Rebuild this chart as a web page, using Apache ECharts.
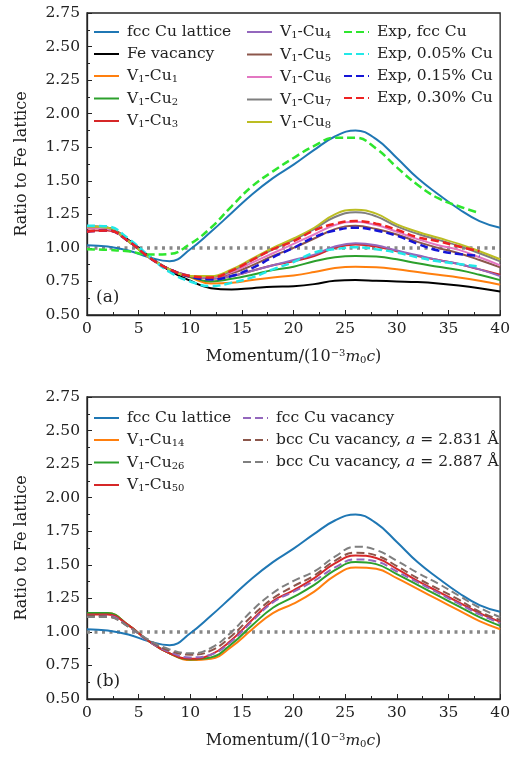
<!DOCTYPE html>
<html lang="en" style="height: 100%">
<head>
  <meta charset="utf-8">
</head>
<body style="height: 100%; margin: 0; background-color:#ffffff;">
  <div id="container" style="width: 513px; height: 758px"></div>

<script src="https://fastly.jsdelivr.net/npm/echarts@6/dist/echarts.min.js"></script>

<script>
  var dom = document.getElementById('container');
  var myChart = echarts.init(dom);

  // momentum grid (10^-3 m0c)
  var xs = [0, 2, 4, 6, 8, 10, 12, 14, 16, 18, 20, 22, 24, 26, 28, 30, 32, 34, 36, 38, 40];

  // shared curve
  var fccLattice = [1.02, 1.01, 0.98, 0.93, 0.90, 0.99, 1.12, 1.26, 1.40, 1.52, 1.62, 1.73, 1.83, 1.875, 1.81, 1.67, 1.52, 1.40, 1.29, 1.20, 1.15];

  // panel (a)
  var feVacancy = [1.16, 1.15, 1.06, 0.94, 0.83, 0.755, 0.70, 0.69, 0.70, 0.71, 0.715, 0.73, 0.755, 0.76, 0.755, 0.75, 0.745, 0.735, 0.72, 0.70, 0.675];
  var cu1 = [1.15, 1.14, 1.05, 0.93, 0.84, 0.78, 0.735, 0.74, 0.76, 0.78, 0.795, 0.82, 0.85, 0.86, 0.855, 0.84, 0.82, 0.80, 0.78, 0.755, 0.725];
  var cu2 = [1.15, 1.14, 1.05, 0.93, 0.84, 0.785, 0.75, 0.77, 0.80, 0.835, 0.86, 0.90, 0.93, 0.94, 0.935, 0.915, 0.885, 0.86, 0.835, 0.80, 0.76];
  var cu3 = [1.13, 1.13, 1.05, 0.93, 0.84, 0.79, 0.77, 0.79, 0.83, 0.87, 0.90, 0.94, 1.00, 1.025, 1.01, 0.975, 0.94, 0.91, 0.88, 0.84, 0.80];
  var cu4 = [1.15, 1.14, 1.05, 0.93, 0.84, 0.79, 0.77, 0.79, 0.83, 0.87, 0.91, 0.95, 1.01, 1.035, 1.02, 0.98, 0.945, 0.91, 0.88, 0.84, 0.79];
  var cu5 = [1.15, 1.14, 1.05, 0.93, 0.84, 0.79, 0.78, 0.81, 0.87, 0.94, 1.00, 1.07, 1.14, 1.165, 1.14, 1.10, 1.045, 1.00, 0.96, 0.91, 0.855];
  var cu6 = [1.15, 1.14, 1.05, 0.93, 0.84, 0.79, 0.78, 0.82, 0.89, 0.96, 1.03, 1.10, 1.17, 1.195, 1.17, 1.12, 1.065, 1.02, 0.985, 0.93, 0.87];
  var cu7 = [1.16, 1.15, 1.05, 0.93, 0.84, 0.79, 0.785, 0.83, 0.91, 0.99, 1.06, 1.14, 1.23, 1.265, 1.235, 1.16, 1.105, 1.06, 1.015, 0.96, 0.90];
  var cu8 = [1.16, 1.15, 1.05, 0.93, 0.84, 0.79, 0.79, 0.84, 0.92, 1.00, 1.07, 1.15, 1.25, 1.285, 1.255, 1.175, 1.12, 1.075, 1.03, 0.975, 0.915];
  var expFcc = [0.99, 0.985, 0.975, 0.95, 0.955, 1.03, 1.15, 1.31, 1.46, 1.57, 1.67, 1.76, 1.82, 1.82, 1.74, 1.60, 1.47, 1.37, 1.31, 1.26, null];
  var exp005 = [1.165, 1.16, 1.07, 0.94, 0.82, 0.75, 0.715, 0.74, 0.78, 0.84, 0.895, 0.965, 0.99, 1.005, 0.99, 0.965, 0.93, 0.90, 0.88, 0.86, null];
  var exp015 = [1.12, 1.13, 1.05, 0.93, 0.84, 0.785, 0.765, 0.79, 0.85, 0.93, 1.00, 1.08, 1.13, 1.15, 1.13, 1.09, 1.03, 0.98, 0.955, 0.94, null];
  var exp030 = [1.12, 1.13, 1.05, 0.93, 0.84, 0.79, 0.78, 0.83, 0.91, 0.99, 1.05, 1.13, 1.18, 1.20, 1.18, 1.135, 1.08, 1.05, 1.01, 0.975, null];

  // panel (b)
  var cu14 = [1.14, 1.14, 1.05, 0.93, 0.84, 0.79, 0.80, 0.89, 1.02, 1.14, 1.21, 1.30, 1.42, 1.48, 1.47, 1.40, 1.32, 1.24, 1.16, 1.08, 1.02];
  var cu26 = [1.14, 1.14, 1.05, 0.93, 0.84, 0.795, 0.81, 0.91, 1.05, 1.18, 1.26, 1.35, 1.46, 1.52, 1.505, 1.43, 1.35, 1.27, 1.19, 1.11, 1.045];
  var cu50 = [1.13, 1.13, 1.05, 0.93, 0.84, 0.80, 0.83, 0.94, 1.09, 1.23, 1.31, 1.40, 1.51, 1.57, 1.55, 1.47, 1.38, 1.30, 1.22, 1.14, 1.075];
  var fccVac = [1.12, 1.12, 1.04, 0.93, 0.85, 0.81, 0.83, 0.93, 1.08, 1.22, 1.30, 1.38, 1.48, 1.54, 1.525, 1.45, 1.37, 1.29, 1.21, 1.13, 1.065];
  var bcc2831 = [1.12, 1.115, 1.04, 0.935, 0.86, 0.83, 0.86, 0.97, 1.12, 1.25, 1.34, 1.42, 1.53, 1.59, 1.57, 1.49, 1.40, 1.32, 1.24, 1.15, 1.09];
  var bcc2887 = [1.11, 1.11, 1.04, 0.94, 0.87, 0.84, 0.88, 1.00, 1.16, 1.29, 1.38, 1.45, 1.56, 1.635, 1.61, 1.53, 1.44, 1.36, 1.27, 1.18, 1.11];

  var yTicks = [0.5, 2.75, 0.25];
  var refLevel = 1.0;

  var font = 'DejaVu Serif';
  var rich = {
    sub: { fontFamily: font, fontSize: 10, padding: [7, 0, 0, 0], color: '#222' },
    sup: { fontFamily: font, fontSize: 10, padding: [0, 0, 8, 0], color: '#222' },
    it: { fontFamily: font, fontSize: 15.5, fontStyle: 'italic', color: '#222' }
  };

  function pts(arr) {
    var out = [];
    arr.forEach(function (v, i) { if (v !== null) out.push([xs[i], v]); });
    return out;
  }

  function line(name, arr, color, idx, dashed, width) {
    return {
      name: name,
      type: 'line',
      xAxisIndex: idx,
      yAxisIndex: idx,
      data: pts(arr),
      smooth: 0.45,
      symbol: 'none',
      silent: true,
      lineStyle: { color: color, width: width || 2, type: dashed ? [8, 4] : 'solid' },
      itemStyle: { color: color },
      z: dashed ? 4 : 3
    };
  }

  function refLine(idx) {
    return {
      type: 'line',
      xAxisIndex: idx,
      yAxisIndex: idx,
      data: [[0, refLevel], [40, refLevel]],
      symbol: 'none',
      silent: true,
      lineStyle: { color: '#888', width: 3.5, type: [3, 4.5] },
      z: 2
    };
  }

  function label(name) {
    var m = name.match(/^V1-Cu(\d+)$/);
    if (m) return 'V{sub|1}-Cu{sub|' + m[1] + '}';
    var a = name.match(/^bcc Cu vacancy, a = (.*)$/);
    if (a) return 'bcc Cu vacancy, {it|a} = ' + a[1];
    return name;
  }

  function legend(names, left, top) {
    return {
      data: names,
      orient: 'vertical',
      left: left,
      top: top,
      itemWidth: 25,
      itemHeight: 14,
      itemGap: 6,
      padding: 0,
      selectedMode: false,
      formatter: label,
      itemStyle: { opacity: 0 },
      textStyle: { fontFamily: font, fontSize: 15.5, color: '#222', lineHeight: 14, padding: [0, 0, 0, 3], rich: rich }
    };
  }

  function xAxis(idx) {
    return {
      type: 'value',
      gridIndex: idx,
      min: 0,
      max: 40,
      interval: 5,
      name: 'Momentum/(10{sup|\u22123}{it|m}{sub|0}{it|c})',
      nameLocation: 'middle',
      nameGap: 33,
      nameTextStyle: { fontFamily: font, fontSize: 16, color: '#222', rich: rich },
      axisLine: { onZero: false, lineStyle: { color: '#222', width: 1.3 } },
      axisTick: { inside: true, length: 5, lineStyle: { color: '#222' } },
      minorTick: { show: true, splitNumber: 2, length: 3, lineStyle: { color: '#222' } },
      axisLabel: { fontFamily: font, fontSize: 15.5, color: '#222', margin: 6 },
      splitLine: { show: false }
    };
  }

  function yAxis(idx) {
    return {
      type: 'value',
      gridIndex: idx,
      min: yTicks[0],
      max: yTicks[1],
      interval: yTicks[2],
      name: 'Ratio to Fe lattice',
      nameLocation: 'middle',
      nameGap: 57,
      nameTextStyle: { fontFamily: font, fontSize: 16, color: '#222' },
      axisLine: { lineStyle: { color: '#222', width: 1.3 } },
      axisTick: { inside: true, length: 5, lineStyle: { color: '#222' } },
      minorTick: { show: true, splitNumber: 2, length: 3, lineStyle: { color: '#222' } },
      axisLabel: { fontFamily: font, fontSize: 15.5, color: '#222', margin: 7, formatter: function (v) { return v.toFixed(2); } },
      splitLine: { show: false }
    };
  }

  var grid = { show: true, borderColor: '#222', borderWidth: 1.3, backgroundColor: 'transparent' };

  var option = {
    animation: false,
    grid: [
      Object.assign({ left: 87, top: 13, width: 416, height: 302 }, grid),
      Object.assign({ left: 87, top: 397, width: 416, height: 302 }, grid)
    ],
    xAxis: [xAxis(0), xAxis(1)],
    yAxis: [yAxis(0), yAxis(1)],
    legend: [
      legend(['fcc Cu lattice', 'Fe vacancy', 'V1-Cu1', 'V1-Cu2', 'V1-Cu3'], 93, 24),
      legend(['V1-Cu4', 'V1-Cu5', 'V1-Cu6', 'V1-Cu7', 'V1-Cu8'], 246, 24),
      legend(['Exp, fcc Cu', 'Exp, 0.05% Cu', 'Exp, 0.15% Cu', 'Exp, 0.30% Cu'], 343, 24),
      legend(['fcc Cu lattice ', 'V1-Cu14', 'V1-Cu26', 'V1-Cu50'], 93, 410),
      legend(['fcc Cu vacancy', 'bcc Cu vacancy, a = 2.831 \u00c5', 'bcc Cu vacancy, a = 2.887 \u00c5'], 242, 410)
    ],
    graphic: [
      { type: 'text', left: 96, top: 289, style: { text: '(a)', font: '17px "DejaVu Serif"', fill: '#222' } },
      { type: 'text', left: 96, top: 673, style: { text: '(b)', font: '17px "DejaVu Serif"', fill: '#222' } }
    ],
    series: [
      refLine(0),
      line('fcc Cu lattice', fccLattice, '#1f77b4', 0),
      line('Fe vacancy', feVacancy, '#000000', 0),
      line('V1-Cu1', cu1, '#ff7f0e', 0),
      line('V1-Cu2', cu2, '#2ca02c', 0),
      line('V1-Cu3', cu3, '#d62728', 0),
      line('V1-Cu4', cu4, '#9467bd', 0),
      line('V1-Cu5', cu5, '#8c564b', 0),
      line('V1-Cu6', cu6, '#e377c2', 0),
      line('V1-Cu7', cu7, '#7f7f7f', 0),
      line('V1-Cu8', cu8, '#bcbd22', 0),
      line('Exp, fcc Cu', expFcc, '#2ee62e', 0, true, 2.5),
      line('Exp, 0.05% Cu', exp005, '#22e8e8', 0, true, 2.5),
      line('Exp, 0.15% Cu', exp015, '#1515d6', 0, true, 2.5),
      line('Exp, 0.30% Cu', exp030, '#ee2222', 0, true, 2.5),

      refLine(1),
      line('fcc Cu lattice ', fccLattice, '#1f77b4', 1),
      line('V1-Cu14', cu14, '#ff7f0e', 1),
      line('V1-Cu26', cu26, '#2ca02c', 1),
      line('V1-Cu50', cu50, '#d62728', 1),
      line('fcc Cu vacancy', fccVac, '#9467bd', 1, true),
      line('bcc Cu vacancy, a = 2.831 \u00c5', bcc2831, '#8c564b', 1, true),
      line('bcc Cu vacancy, a = 2.887 \u00c5', bcc2887, '#7f7f7f', 1, true)
    ]
  };

  myChart.setOption(option);

  window.addEventListener('resize', myChart.resize);
</script>

</body>
</html>
